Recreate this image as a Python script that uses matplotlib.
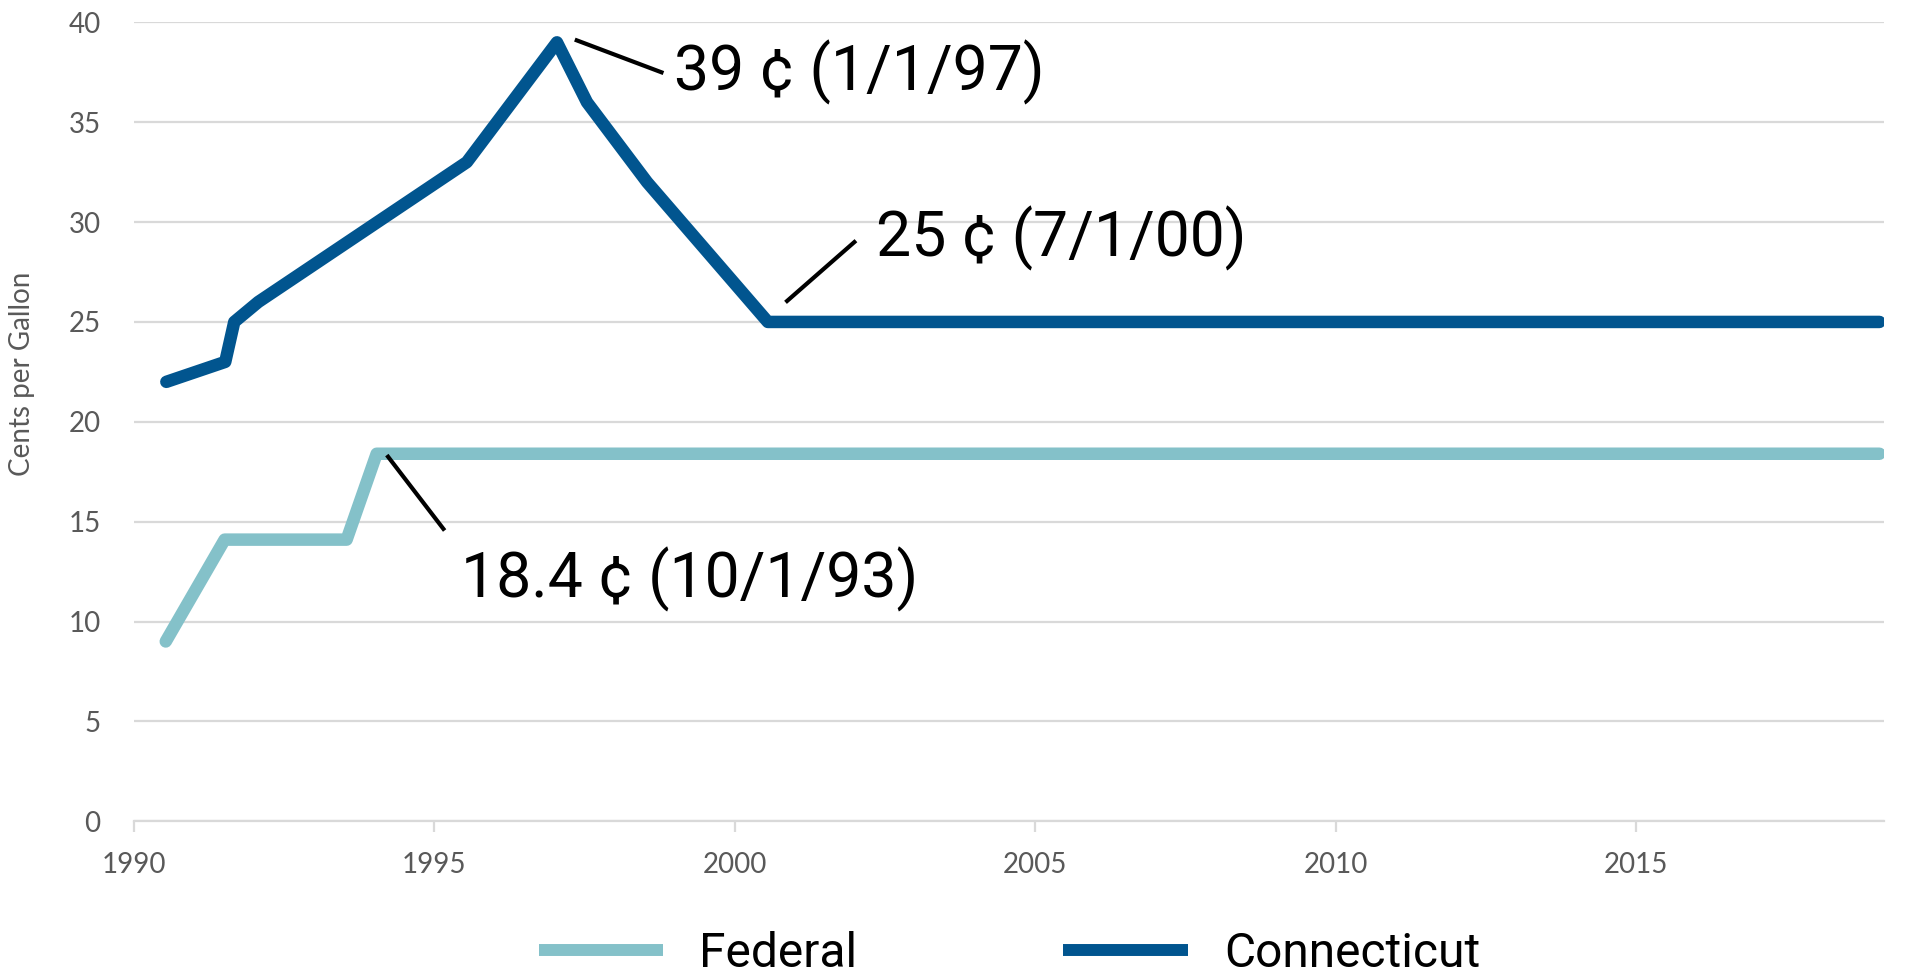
import matplotlib.pyplot as plt

# Gas tax, cents per gallon (x = decimal year)
fed_years = [1990.53, 1991.51, 1993.54, 1994.04, 2019.05]
fed_cents = [9.0, 14.1, 14.1, 18.4, 18.4]

ct_years = [1990.54, 1991.52, 1991.67, 1992.07, 1995.54, 1996.54, 1997.04,
            1997.54, 1998.54, 2000.55, 2019.05]
ct_cents = [22, 23, 25, 26, 33, 37, 39, 36, 32, 25, 25]

xticks = [1990, 1995, 2000, 2005, 2010, 2015]
yticks = [0, 5, 10, 15, 20, 25, 30, 35, 40]

# annotations: text, line start (x, y), line end (x, y), text anchor (x, y)
notes = [
    ("39 ¢ (1/1/97)", (1997.37, 39.1), (1998.78, 37.5), (1998.98, 36.6)),
    ("25 ¢ (7/1/00)", (2000.87, 26.05), (2001.99, 29.0), (2002.35, 28.3)),
    ("18.4 ¢ (10/1/93)", (1994.23, 18.25), (1995.15, 14.64), (1995.44, 11.2)),
]

fed_color = "#84c1c9"
ct_color = "#01558f"
grid_color = "#d9d9d9"
tick_color = "#595959"

fig = plt.figure(figsize=(19.13, 9.73), dpi=100)
ax = fig.add_axes([0.070, 0.156, 0.915, 0.821])

ax.plot(fed_years, fed_cents, color=fed_color, lw=9, solid_capstyle="round",
        solid_joinstyle="round", label="Federal", zorder=3)
ax.plot(ct_years, ct_cents, color=ct_color, lw=9, solid_capstyle="round",
        solid_joinstyle="round", label="Connecticut", zorder=3)

for text, p0, p1, pt in notes:
    ax.plot([p0[0], p1[0]], [p0[1], p1[1]], color="black", lw=3, zorder=4)
    ax.text(pt[0], pt[1], text, fontsize=45, family="Roboto", color="black",
            ha="left", va="baseline", zorder=5)

ax.set_xlim(1990, 2019.13)
ax.set_ylim(0, 40)
ax.set_xticks(xticks)
ax.set_yticks(yticks)
ax.yaxis.grid(True, color=grid_color, lw=1.6)
ax.set_axisbelow(True)
for side in ["top", "right", "left"]:
    ax.spines[side].set_visible(False)
ax.spines["bottom"].set_color(grid_color)
ax.spines["bottom"].set_linewidth(1.6)
ax.tick_params(axis="x", length=8, width=1.6, color=grid_color, pad=14,
               labelsize=20, labelcolor=tick_color)
ax.tick_params(axis="y", length=0, pad=24, labelsize=20, labelcolor=tick_color)
for lab in ax.get_xticklabels() + ax.get_yticklabels():
    lab.set_family("Lato")

fig.text(0.0115, 0.616, "Cents per Gallon", rotation=90, ha="center", va="center",
         fontsize=20, color=tick_color, family="Lato")

fig.legend(loc="center", bbox_to_anchor=(0.5277, 0.02), ncol=2, frameon=False,
           prop={"family": "Roboto", "size": 34.5}, handlelength=2.6,
           handletextpad=0.75, columnspacing=4.3, borderpad=0.1)
leg = fig.legends[0]
for line in leg.get_lines():
    line.set_linewidth(8.6)
    line.set_solid_capstyle("butt")

fig.savefig("out.png", dpi=100)
